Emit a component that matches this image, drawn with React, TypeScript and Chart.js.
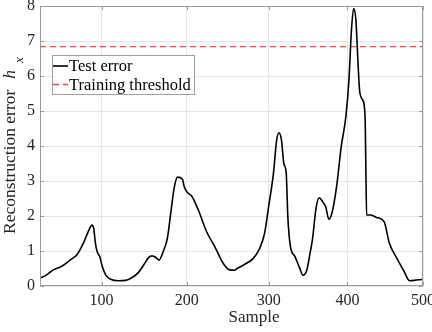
import React, { useEffect, useRef } from 'react';
import { Chart, registerables, LinearScale } from 'chart.js';

// ---- data ----
const sample = [30, 37, 45, 55, 64, 72, 80, 85, 89, 91, 93, 95, 98, 101, 105, 110, 120, 128, 136, 143, 149, 155, 159, 163, 167, 172, 177, 181, 185, 189, 195, 197, 201, 206, 214, 224, 234, 244, 252, 258, 261, 269, 281, 289, 295, 300, 306, 310, 313, 316, 319, 322, 324, 327, 333, 339, 343, 348, 352, 355, 360, 364, 368, 372, 376, 380, 386, 392, 398, 402, 405, 408, 411, 414, 416, 420, 423, 424, 425, 430, 438, 448, 455, 465, 474, 482, 491, 500];
const testError = [0.22, 0.31, 0.46, 0.57, 0.74, 0.9, 1.27, 1.57, 1.74, 1.65, 1.22, 0.98, 0.84, 0.55, 0.31, 0.2, 0.15, 0.16, 0.25, 0.39, 0.6, 0.82, 0.86, 0.82, 0.74, 0.98, 1.36, 2.08, 2.79, 3.11, 3.05, 2.84, 2.67, 2.57, 2.17, 1.55, 1.12, 0.65, 0.46, 0.45, 0.5, 0.6, 0.79, 1.08, 1.51, 2.27, 3.22, 4.17, 4.38, 4.17, 3.5, 3.22, 1.98, 1.17, 0.84, 0.51, 0.31, 0.46, 0.93, 1.31, 2.27, 2.52, 2.41, 2.27, 1.91, 2.08, 2.84, 3.98, 4.84, 5.89, 7.22, 7.93, 7.6, 6.27, 5.55, 5.31, 4.84, 3.41, 2.03, 2.03, 1.96, 1.84, 1.22, 0.79, 0.44, 0.15, 0.17, 0.19];
const thresholdValue = 6.84;
const xRange = [30, 500];
const yRange = [0, 8];
const xTicks = [100, 200, 300, 400, 500];
const yTicks = [0, 1, 2, 3, 4, 5, 6, 7, 8];
const seriesLabels = ['Test error', 'Training threshold'];
const xTitle = 'Sample';
const yTitleMain = 'Reconstruction error';
const yTitleSym = 'h';
const yTitleSub = 'x';

// ---- styling ----
const FONT = 'Liberation Serif';
const TEXT_COLOR = '#262626';
const BOX_COLOR = '#9a9a9a';
const GRID_COLOR = '#e6e6e6';
const LINE_COLOR = '#000000';
const THRESH_COLOR = '#ff4040';

// mild non-uniform horizontal axis as seen in the reference
const WARP = 0.092;
const warp = (d: number) => d + WARP * d * (1 - d);
const unwarp = (q: number) => ((1 + WARP) - Math.sqrt((1 + WARP) * (1 + WARP) - 4 * WARP * q)) / (2 * WARP);

class WarpScale extends LinearScale {
  static id = 'warpLinear';
  static defaults = (LinearScale as any).defaults;
  getPixelForValue(value: any) {
    if (value === null || value === undefined || isNaN(value)) return NaN;
    const s: any = this;
    const d = (value - s.min) / (s.max - s.min);
    return s.getPixelForDecimal(warp(d));
  }
  getValueForPixel(pixel: number) {
    const s: any = this;
    const q = s.getDecimalForPixel(pixel);
    return s.min + unwarp(q) * (s.max - s.min);
  }
}

Chart.register(...registerables, WarpScale as any);
Chart.defaults.font.family = FONT;
Chart.defaults.font.size = 16;
Chart.defaults.color = TEXT_COLOR;

const decorPlugin = {
  id: 'matlabDecor',
  afterDatasetsDraw(chart: any) {
    const { ctx, chartArea: a, scales } = chart;
    ctx.save();
    ctx.strokeStyle = BOX_COLOR;
    ctx.lineWidth = 1;
    const L = Math.round(a.left) + 0.5, R = Math.round(a.right) - 0.5;
    const T = Math.round(a.top) + 0.5, B = Math.round(a.bottom) - 0.5;
    ctx.strokeRect(L, T, R - L, B - T);
    const tl = 3.5;
    ctx.beginPath();
    for (const v of xTicks) {
      const x = Math.round(scales.x.getPixelForValue(v)) + 0.5;
      ctx.moveTo(x, B); ctx.lineTo(x, B - tl);
      ctx.moveTo(x, T); ctx.lineTo(x, T + tl);
    }
    for (const v of yTicks) {
      const y = Math.round(scales.y.getPixelForValue(v)) + 0.5;
      ctx.moveTo(L, y); ctx.lineTo(L + tl, y);
      ctx.moveTo(R, y); ctx.lineTo(R - tl, y);
    }
    ctx.stroke();
    ctx.restore();
  },
  afterDraw(chart: any) {
    const { ctx, chartArea: a } = chart;
    ctx.save();
    // legend
    const lx = a.left + 12, ly = a.top + 49, lw = 142, lh = 39;
    ctx.fillStyle = '#ffffff';
    ctx.fillRect(lx, ly, lw, lh);
    ctx.strokeStyle = '#a0a0a0';
    ctx.lineWidth = 1;
    ctx.strokeRect(Math.round(lx) + 0.5, Math.round(ly) + 0.5, lw, lh);
    ctx.font = `16.5px ${FONT}`;
    ctx.textBaseline = 'middle';
    ctx.textAlign = 'left';
    chart.data.datasets.forEach((ds: any, i: number) => {
      const cy = ly + 11 + i * 18.5;
      ctx.save();
      ctx.strokeStyle = ds.borderColor;
      ctx.lineWidth = ds.borderWidth;
      ctx.setLineDash(ds.borderDash || []);
      ctx.beginPath();
      ctx.moveTo(lx + 1, cy); ctx.lineTo(lx + 16, cy);
      ctx.stroke();
      ctx.restore();
      ctx.fillStyle = '#000000';
      ctx.fillText(ds.label, lx + 17, cy + 1);
    });
    // x title
    ctx.fillStyle = TEXT_COLOR;
    ctx.font = `17px ${FONT}`;
    ctx.textAlign = 'center';
    ctx.textBaseline = 'alphabetic';
    ctx.fillText(xTitle, a.left + (a.right - a.left) * 0.559, 322);
    // y title (rotated, with italic h and subscript x)
    const mainFont = `17.5px ${FONT}`;
    const symFont = `italic 17.5px ${FONT}`;
    const subFont = `italic 13px ${FONT}`;
    ctx.font = mainFont;
    const wMain = ctx.measureText(yTitleMain).width;
    ctx.font = symFont;
    const wSym = ctx.measureText(yTitleSym).width;
    const gap1 = 11, gap2 = 7;
    ctx.translate(15, a.bottom - 52);
    ctx.rotate(-Math.PI / 2);
    ctx.textAlign = 'left';
    let pos = 0;
    ctx.font = mainFont;
    ctx.fillText(yTitleMain, pos, 0);
    pos += wMain + gap1;
    ctx.font = symFont;
    ctx.fillText(yTitleSym, pos, 0);
    pos += wSym + gap2;
    ctx.font = subFont;
    ctx.fillText(yTitleSub, pos, 8);
    ctx.restore();
  },
};

export default function App() {
  const ref = useRef<HTMLCanvasElement | null>(null);
  useEffect(() => {
    if (!ref.current) return;
    const tickFont = { family: FONT, size: 16 };
    const chart = new Chart(ref.current, {
      type: 'line',
      data: {
        datasets: [
          {
            label: seriesLabels[0],
            data: sample.map((x, i) => ({ x, y: testError[i] })),
            borderColor: LINE_COLOR,
            borderWidth: 1.6,
            pointRadius: 0,
            cubicInterpolationMode: 'monotone',
            fill: false,
          },
          {
            label: seriesLabels[1],
            data: xRange.map((x) => ({ x, y: thresholdValue })),
            borderColor: THRESH_COLOR,
            borderWidth: 1.4,
            borderDash: [6, 4],
            pointRadius: 0,
            fill: false,
          },
        ],
      } as any,
      options: {
        animation: false,
        responsive: false,
        font: tickFont,
        layout: { padding: { left: 0, right: 9, top: 6, bottom: 0 } },
        plugins: { legend: { display: false }, tooltip: { enabled: false } },
        scales: {
          x: {
            type: 'warpLinear' as any,
            min: xRange[0],
            max: xRange[1],
            afterBuildTicks: (s: any) => { s.ticks = xTicks.map((v) => ({ value: v })); },
            afterFit: (s: any) => { s.height = 46; s.paddingLeft = 0; s.paddingRight = 0; },
            grid: { color: GRID_COLOR, drawTicks: false },
            border: { display: false },
            ticks: { color: TEXT_COLOR, font: tickFont, padding: 5, maxRotation: 0, autoSkip: false },
          },
          y: {
            type: 'linear',
            min: yRange[0],
            max: yRange[1],
            afterBuildTicks: (s: any) => { s.ticks = yTicks.map((v) => ({ value: v })); },
            afterFit: (s: any) => { s.width = 40; s.paddingTop = 0; s.paddingBottom = 0; },
            grid: { color: GRID_COLOR, drawTicks: false },
            border: { display: false },
            ticks: { color: TEXT_COLOR, font: tickFont, padding: 5, autoSkip: false },
          },
        },
      } as any,
      plugins: [decorPlugin],
    });
    return () => chart.destroy();
  }, []);
  return (
    <div style={{ position: 'fixed', left: 0, top: 0, width: 432, height: 332, background: '#fff' }}>
      <canvas ref={ref} width={432} height={332} style={{ display: 'block', width: 432, height: 332 }} />
    </div>
  );
}
